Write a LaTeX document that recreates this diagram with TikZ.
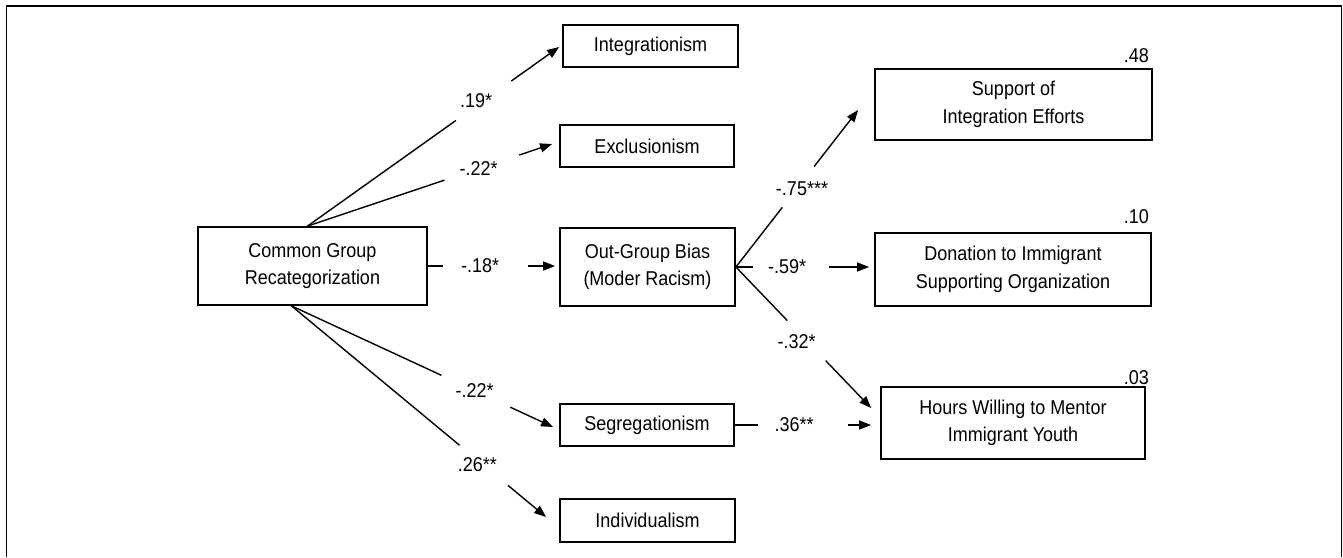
\documentclass[tikz,border=0pt]{standalone}
\usepackage{fontspec}
\setmainfont{Liberation Sans}[FakeStretch=0.9]
\usetikzlibrary{calc,arrows.meta}
\begin{document}
\begin{tikzpicture}[x=1pt,y=-1pt,
  box/.style={draw, line width=1.8pt, inner sep=0pt, align=center, font=\fontsize{20}{27.5}\selectfont},
  lbl/.style={inner sep=0pt, font=\fontsize{20}{24}\selectfont},
  con/.style={line width=1.4pt},
  arr/.style={line width=1.4pt, -{Triangle[length=12pt,width=9pt]}}]
\useasboundingbox (0,0) rectangle (1343,557);
\draw[line width=1.6pt] (6.5,557) -- (6.5,6) -- (1341.5,6) -- (1341.5,557);

% boxes
\node[box, minimum width=229pt, minimum height=78pt] (cg) at (312.5,266) {Common Group\\Recategorization};
\node[box, minimum width=175pt, minimum height=42pt] (integ) at (650.5,46) {Integrationism};
\node[box, minimum width=174pt, minimum height=42pt] (excl) at (647,146) {Exclusionism};
\node[box, minimum width=175pt, minimum height=78pt] (ogb) at (647.5,267) {Out-Group Bias\\(Moder Racism)};
\node[box, minimum width=174pt, minimum height=42pt] (seg) at (647,425) {Segregationism};
\node[box, minimum width=175pt, minimum height=43pt] (indiv) at (647.5,520.5) {Individualism};
\node[box, minimum width=277pt, minimum height=71pt] (support) at (1013.5,104.5) {Support of\\Integration Efforts};
\node[box, minimum width=276pt, minimum height=73pt] (donation) at (1013,269.5) {Donation to Immigrant\\Supporting Organization};
\node[box, minimum width=264pt, minimum height=72pt] (hours) at (1013,423) {Hours Willing to Mentor\\Immigrant Youth};

% R squared
\node[lbl, anchor=base east] (r1) at (1149,62) {.48};
\node[lbl, anchor=base east] (r2) at (1149,223) {.10};
\node[lbl, anchor=base east] (r3) at (1149,384) {.03};

% anchor points
\coordinate (cgN) at ($(cg.north)+(-5,0)$);
\coordinate (cgS) at ($(cg.south)+(-21,0)$);
\coordinate (tInt) at ($(integ.west)+(-3,1)$);
\coordinate (tExc) at ($(excl.west)+(-7,-2)$);
\coordinate (tOgb) at ($(ogb.west |- cg.east)+(-4,0)$);
\coordinate (tSeg) at ($(seg.west)+(-6,2)$);
\coordinate (tInd) at ($(indiv.west)+(-13,-3.5)$);
\coordinate (tSup) at ($(support.west)+(-16,5.5)$);
\coordinate (tDon) at ($(donation.west |- ogb.east)+(-5,0)$);
\coordinate (tHrs) at ($(hours.west)+(-9,-15)$);
\coordinate (tHrs2) at ($(hours.west |- seg.east)+(-9,0)$);

% 1
\path (cgN) -- (tInt) coordinate[pos=0.59](a1) coordinate[pos=0.81](b1) node[lbl,pos=0.67,yshift=5pt]{.19*};
\draw[con] (cgN) -- (a1); \draw[arr] (b1) -- (tInt);
% 2
\path (cgN) -- (tExc) coordinate[pos=0.56](a2) coordinate[pos=0.866](b2) node[lbl,pos=0.70]{-.22*};
\draw[con] (cgN) -- (a2); \draw[arr] (b2) -- (tExc);
% 3
\path (cg.east) -- (tOgb) coordinate[pos=0.116](a3) coordinate[pos=0.79](b3) node[lbl,pos=0.41]{-.18*};
\draw[con] (cg.east) -- (a3); \draw[arr] (b3) -- (tOgb);
% 4
\path (cgS) -- (tSeg) coordinate[pos=0.573](a4) coordinate[pos=0.836](b4) node[lbl,pos=0.70]{-.22*};
\draw[con] (cgS) -- (a4); \draw[arr] (b4) -- (tSeg);
% 5
\path (cgS) -- (tInd) coordinate[pos=0.66](a5) coordinate[pos=0.85](b5) node[lbl,pos=0.73,yshift=-5pt]{.26**};
\draw[con] (cgS) -- (a5); \draw[arr] (b5) -- (tInd);
% 6
\path (ogb.east) -- (tSup) coordinate[pos=0.38](a6) coordinate[pos=0.64](b6) node[lbl,pos=0.5,xshift=5pt]{-.75***};
\draw[con] (ogb.east) -- (a6); \draw[arr] (b6) -- (tSup);
% 7
\path (ogb.east) -- (tDon) coordinate[pos=0.126](a7) coordinate[pos=0.70](b7) node[lbl,pos=0.385]{-.59*};
\draw[con] (ogb.east) -- (a7); \draw[arr] (b7) -- (tDon);
% 8
\path (ogb.east) -- (tHrs) coordinate[pos=0.38](a8) coordinate[pos=0.664](b8) node[lbl,pos=0.53,xshift=-11pt]{-.32*};
\draw[con] (ogb.east) -- (a8); \draw[arr] (b8) -- (tHrs);
% 9
\path (seg.east) -- (tHrs2) coordinate[pos=0.167](a9) coordinate[pos=0.833](b9) node[lbl,pos=0.435]{.36**};
\draw[con] (seg.east) -- (a9); \draw[arr] (b9) -- (tHrs2);
\end{tikzpicture}
\end{document}
